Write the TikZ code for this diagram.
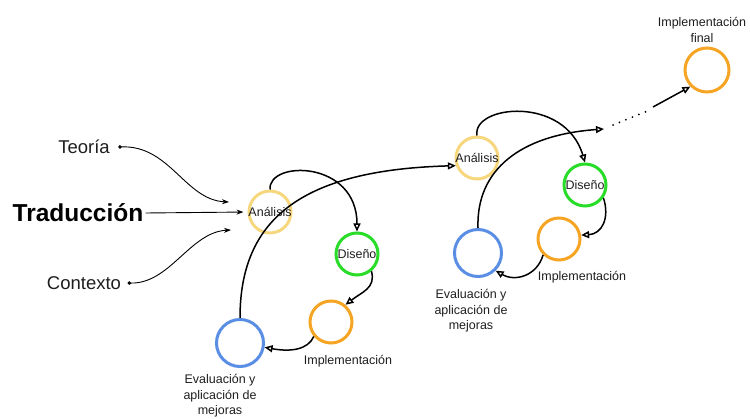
\documentclass[tikz,border=0pt]{standalone}
\usepackage{fontspec}
\setmainfont{Liberation Sans}
\usetikzlibrary{arrows.meta}
\definecolor{amarillo}{RGB}{246,215,126}
\definecolor{verde}{RGB}{40,220,40}
\definecolor{naranja}{RGB}{245,165,35}
\definecolor{azul}{RGB}{90,142,228}
\definecolor{texto}{RGB}{30,30,30}
\begin{document}
\begin{tikzpicture}[x=1pt,y=-1pt,
  every node/.style={text=texto,font=\fontsize{12.5}{15.5}\selectfont},
  fase/.style={circle,line width=3pt,minimum size=42pt,inner sep=0pt},
  flecha/.style={line width=1.5pt,-{Triangle[open,length=8pt,width=7pt]}},
  entrada/.style={line width=0.9pt,-{Stealth[length=7pt,width=5pt]}},
  origen/.style={line width=0.9pt,{Circle[length=3.5pt]}-{Stealth[length=7pt,width=5pt]}},
  etiqueta/.style={align=center}]
\useasboundingbox (0,0) rectangle (750,419);
\node[font=\fontsize{18.5}{20}\selectfont] (teoria) at (84,147) {Teoría};
\node[font=\fontsize{24.5}{26}\bfseries\selectfont,inner sep=2pt,text=black] (traduccion) at (78,213) {Traducción};
\node[font=\fontsize{18.5}{20}\selectfont] (contexto) at (84,283) {Contexto};
\node[fase,draw=amarillo,label=center:Análisis] (a1) at (270,212) {};
\node[fase,draw=verde,label=center:Diseño] (d1) at (357,254) {};
\node[fase,draw=naranja] (i1) at (331,322) {};
\node[fase,draw=azul,minimum size=47pt] (e1) at (240,343) {};
\node[fase,draw=amarillo,label=center:Análisis] (a2) at (477,158) {};
\node[fase,draw=verde,label=center:Diseño] (d2) at (585,185) {};
\node[fase,draw=naranja] (i2) at (559,239) {};
\node[fase,draw=azul,minimum size=47pt] (e2) at (478,253) {};
\node[fase,draw=naranja,minimum size=44pt] (fin) at (707,70) {};
\node (li1) at (348,361) {Implementación};
\node[etiqueta] (le1) at (220,396) {Evaluación y\\aplicación de\\mejoras};
\node (li2) at (582,277) {Implementación};
\node[etiqueta] (le2) at (471,311) {Evaluación y\\aplicación de\\mejoras};
\node[etiqueta] (lfin) at (702,30) {Implementación\\final};
\coordinate (pt) at (229,202);
\coordinate (pc) at (231,230);
\coordinate (p1) at (604,129);
\coordinate (p2) at (613,125);
\coordinate (p3) at (650,110);
\coordinate (p4) at (653,107);
\draw[origen] ([xshift=5pt]teoria.east) .. controls (170,145) and (185,200) .. (pt);
\draw[entrada,shorten >=4pt] (traduccion.east) -- (a1.west);
\draw[origen] ([xshift=3pt]contexto.east) .. controls (170,284) and (190,232) .. (pc);
\draw[flecha] (a1.north) .. controls (268,160) and (357,160) .. (d1.north);
\draw[flecha] (d1.-50) .. controls (376,288) and (362,292) .. (i1.50);
\draw[flecha] (i1.-140) .. controls (308,350) and (290,352) .. (e1.-10);
\draw[flecha] (e1.north) .. controls (240,220) and (300,170) .. (a2.200);
\draw[flecha] (a2.north) .. controls (472,105) and (565,95) .. (d2.north);
\draw[flecha] (d2.-35) .. controls (610,218) and (602,234) .. (i2.10);
\draw[flecha] (i2.-135) .. controls (537,276) and (515,282) .. (e2.-45);
\draw[flecha] (e2.north) .. controls (476,170) and (520,135) .. (p1);
\draw[line width=2pt,line cap=round,dash pattern=on 0pt off 7pt] (p2) -- (p3);
\draw[flecha] (p4) -- (fin.-135);
\end{tikzpicture}
\end{document}
